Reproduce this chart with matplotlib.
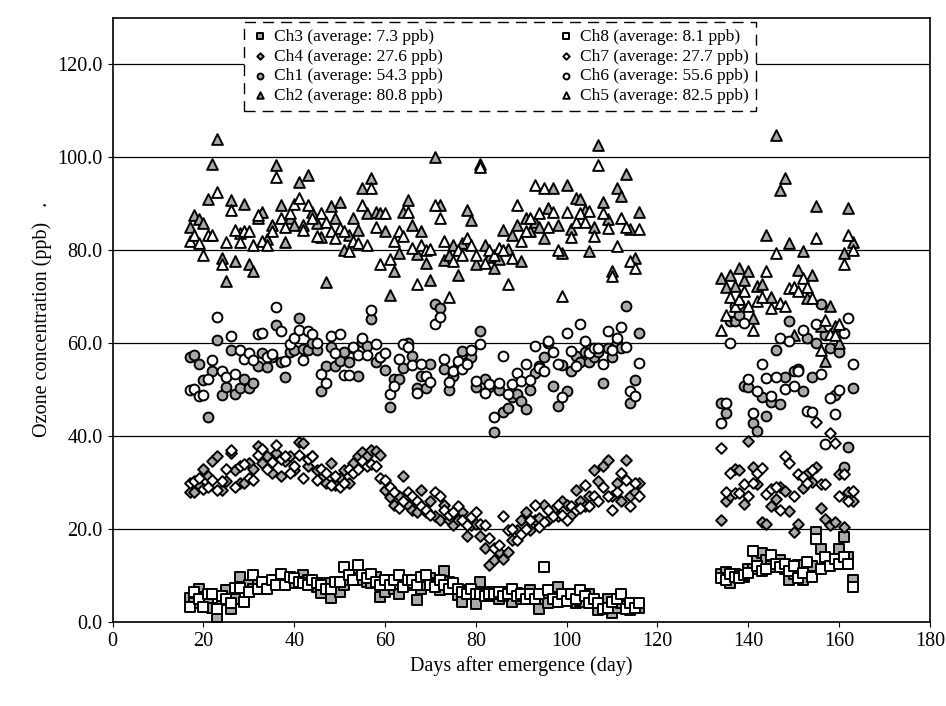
import matplotlib
matplotlib.use("Agg")
import matplotlib.pyplot as plt

# days after emergence (two measuring periods)
days_a = list(range(17, 117))
days_b = list(range(134, 164))

# Ch3 (hatched square) / Ch8 (open square)
ch3_a = [5.1, 4, 7.2, 5.4, 4, 3, 1.1, 4.7, 6.9, 2.7,
         5, 9.7, 7.4, 8, 7, 8.6, 7, 8, 8.5, 9,
         9, 9.4, 9, 8.3, 8.3, 10.1, 9, 8.3, 7.5, 6.3,
         8.3, 5.1, 7, 6.5, 8, 9, 10.1, 9.4, 9, 8.6,
         8.3, 9.7, 5.4, 6.5, 7.9, 7, 6.1, 7.9, 7.9, 8.3,
         4.7, 7, 8, 9.4, 8.3, 6.9, 11, 8.6, 7, 5.8,
         4.4, 6.9, 6, 3.9, 8.6, 6.1, 6.5, 5.5, 5, 6,
         6.5, 4.4, 6.3, 5, 6, 6.9, 6.1, 2.9, 5, 4,
         6.1, 7.6, 4.7, 5.4, 5.1, 4, 4.5, 4.4, 6.1, 4.4,
         2.6, 3.3, 5, 2, 3, 4, 3.5, 2.6, 3.3, 3]
ch8_a = [3.3, 6.5, 5, 3.3, 6.1, 6, 2.9, 5.5, 5, 4,
         7.4, 7.4, 4.4, 6.5, 10.1, 7, 8.6, 7, 9, 8,
         10.4, 8, 9.7, 9.5, 8.5, 8.3, 8, 9, 8.3, 8,
         7, 7, 8.5, 8.6, 11.9, 10, 9, 12.2, 10.1, 9.4,
         10.4, 8.5, 7.9, 9, 8, 9, 10.1, 7.5, 9, 9,
         8, 9.7, 10.1, 8, 7.5, 9, 8, 7, 8.3, 7,
         6.5, 6, 7.2, 6.1, 6, 5.5, 6, 6.1, 6.5, 5.5,
         6, 7, 5.5, 6, 5, 6, 5, 6, 11.9, 6.9,
         5, 4.4, 6, 4.5, 6, 5, 6.9, 5.5, 4, 5,
         4, 2.9, 3, 4.4, 5, 6, 2.9, 4, 3, 4]
ch3_b = [10.4, 10.8, 8.4, 10.4, 9.9, 9.7, 11.5, 11.5, 13.3, 14.8,
         13.3, 12, 11.9, 13.3, 11.5, 9, 10.4, 12.2, 9, 11.5,
         12, 19.4, 15.6, 12, 13.6, 12.5, 15.6, 18.3, 14, 9]
ch8_b = [9.5, 9, 10.4, 9.7, 9.4, 10, 10.5, 15.3, 12, 11,
         11.3, 14.5, 12.5, 11.9, 12.5, 11, 12, 9.5, 10.5, 13,
         9.7, 17.9, 11.5, 14, 12, 13.6, 12.4, 14, 12.4, 7.6]

# Ch4 (hatched diamond) / Ch7 (open diamond)
ch4_a = [28, 27.9, 29.4, 33, 31.5, 34.7, 35.8, 28.3, 30.4, 36.3,
         32.6, 30, 30, 34.3, 33, 37.9, 34.3, 35.6, 32, 36.4,
         31.5, 34.7, 35.8, 32.6, 38.8, 38.6, 33.6, 35.8, 32.6, 31,
         30, 34.3, 29.4, 31, 32.6, 30, 34.3, 35.6, 36.5, 35.8,
         36.9, 36.7, 36, 28.3, 26.8, 25.1, 27, 31.5, 25.1, 24,
         23.6, 28.3, 23.6, 26.1, 22.9, 21.9, 25.1, 21.9, 20.8, 22,
         23.6, 18.6, 20.8, 21, 18.6, 15.9, 12.2, 13.3, 15.1, 13.6,
         15.1, 17.6, 19.7, 21.9, 23.6, 19.7, 22, 22.3, 25.1, 22,
         24, 22.9, 26.1, 25.1, 23, 28.3, 26.1, 25, 27.2, 32.6,
         30.4, 33.6, 34.9, 27.2, 30, 26, 34.9, 27.2, 28, 30]
ch7_a = [30, 30.4, 31, 28.5, 29, 30.5, 28.3, 30.4, 33, 36.9,
         29, 33.5, 34, 31, 30.5, 36, 37.2, 33, 34.5, 38.1,
         35, 35.8, 32, 33.5, 36, 31, 35, 35.6, 30.5, 33,
         32, 29.5, 31.5, 29, 30, 33, 32, 33, 34.7, 33.5,
         34, 33.6, 31, 30.5, 29, 28, 24.5, 26, 28, 27,
         26, 25, 24, 23, 28, 27, 24, 23, 23.6, 25,
         21.9, 20.8, 22.5, 23.6, 21, 20.8, 18, 15.9, 16.5, 22.9,
         19.7, 20, 17.6, 19, 20, 22, 25.1, 20.5, 21.5, 24,
         22.9, 25.1, 23, 22, 25, 24, 24.5, 29.4, 25, 27,
         26, 29, 27.2, 24, 28, 32, 30.5, 25, 30, 27]
ch4_b = [22, 26.1, 27.2, 33, 32.7, 25.3, 38.9, 33.3, 29.7, 21.5,
         21, 24.9, 26.5, 29, 28.1, 23.9, 19.4, 21, 28.9, 31.9,
         30.1, 33.4, 24.6, 22.2, 20.8, 21.5, 31.9, 20.4, 27.9, 26.1]
ch7_b = [37.4, 27.9, 32, 27.7, 27.7, 29.7, 27.2, 30, 32, 33.1,
         27.6, 28.6, 29, 24, 35.8, 34.3, 27.2, 31.9, 31.1, 30,
         32.6, 43.1, 29.6, 29.6, 40.6, 38.4, 27, 31.9, 26, 28.1]

# Ch1 (hatched circle) / Ch6 (open circle)
ch1_a = [57, 57.4, 55.6, 52, 44.1, 54, 60.6, 48.9, 50.6, 58.6,
         49, 50.4, 52.2, 50.4, 51.5, 55, 57.9, 54.9, 57, 63.9,
         56, 52.6, 58, 58.4, 65.4, 58.7, 58.4, 60, 58.4, 49.7,
         55, 59.1, 55.1, 56.1, 58, 56, 59, 52.9, 60.3, 59.4,
         65.1, 56, 57, 54.1, 46.3, 52.2, 52.2, 54.6, 60.1, 57.2,
         50.4, 53, 50.4, 55.4, 68.3, 67.6, 54.4, 50, 53, 55,
         58.3, 56, 56.9, 50.6, 62.7, 52.2, 50.6, 40.8, 50, 45.1,
         46, 48.3, 49, 47.6, 45.8, 50, 53.6, 55, 56.9, 60,
         50.8, 46.5, 55.3, 49.6, 54, 57.2, 56, 58, 56, 57,
         58, 51.5, 59, 57, 60, 59, 67.9, 47.2, 52, 62.2]
ch6_a = [50, 50.1, 48.6, 48.9, 52.2, 56.4, 65.6, 54, 52.7, 61.5,
         53.3, 58.6, 56.5, 57.9, 56.3, 61.9, 62.2, 56.9, 57.6, 67.8,
         62.6, 56.1, 59.7, 61, 62.9, 56.3, 62.6, 62, 60.1, 53.4,
         51.5, 61.5, 57.9, 62, 53.1, 53.1, 59.1, 57.4, 61, 57.4,
         67.2, 59.7, 56.9, 57.9, 49, 50.8, 56.5, 59.7, 59.1, 55.3,
         49.3, 55.4, 52.9, 51.7, 64, 65.6, 56.5, 51.7, 54, 56.1,
         54.4, 55.4, 58.6, 51.9, 59.7, 49.3, 51.3, 44, 51.5, 57.2,
         49, 51.1, 53.6, 51.9, 55.4, 52, 59.4, 54.6, 54, 60.4,
         58.1, 55.6, 48.3, 62.2, 58.3, 55, 64, 60.4, 57.9, 59,
         59, 55.4, 62.7, 58.6, 61, 63.4, 59.1, 49.6, 48.6, 55.8]
ch1_b = [47.2, 45, 64.7, 64.7, 66.1, 50.8, 50.6, 42.7, 41.1, 48.3,
         44.4, 47.4, 58.6, 46.9, 52.7, 64.7, 54, 54.4, 49.7, 61.1,
         52.6, 60, 68.3, 61.8, 59, 48.9, 58, 33.4, 37.6, 50.3]
ch6_b = [42.9, 47, 60.1, 67.9, 68.3, 64.3, 52.2, 44.9, 49.7, 55.4,
         52.4, 48.6, 52.7, 61.1, 50.1, 60.4, 50.8, 54, 62.9, 45.3,
         45.1, 64, 53.3, 38.3, 48.1, 44.7, 50, 62.2, 65.4, 55.4]

# Ch2 (hatched triangle) / Ch5 (open triangle)
ch2_a = [85, 87.6, 86.6, 85.8, 90.9, 98.6, 104, 78.3, 73.4, 90.8,
         77.6, 83.6, 90, 76.9, 75.4, 86.8, 88.3, 82.3, 85.5, 98.3,
         89.7, 81.7, 86.8, 85.4, 94.7, 85.4, 96.2, 88.3, 85.8, 82.9,
         73.1, 89.4, 86.8, 90.4, 80, 83.3, 86.8, 84.4, 93.3, 87.9,
         95.6, 88.3, 87.9, 84.1, 70.4, 75.4, 79.3, 88.3, 90.8, 85.4,
         79.1, 84, 77.2, 73.6, 100.1, 89.7, 77.9, 79, 81, 74.7,
         81.5, 88.6, 86.5, 76.9, 98.6, 81.1, 78.6, 76.1, 78, 84.4,
         80.3, 83.3, 85.4, 77.6, 86.8, 84, 86.1, 85, 82.7, 89.1,
         93.3, 85.4, 79.3, 94.1, 84.6, 91.3, 91, 88.6, 79.8, 85,
         102.6, 90.3, 86.7, 75.6, 93.3, 91.7, 96.3, 84.6, 78.3, 88.3]
ch5_a = [82, 83.3, 81.5, 79, 83.3, 83.3, 92.6, 77, 81.8, 88.7,
         84.4, 81.8, 84, 84, 81.1, 87.6, 82, 81.2, 84, 95.8,
         86.8, 85, 88, 90, 91.3, 84.4, 89.7, 86.8, 83, 88,
         86, 84, 82.6, 84.7, 84, 79.7, 82, 81.5, 89.7, 81.2,
         93.4, 85, 76.9, 88, 78, 82, 84, 83, 88.3, 80.4,
         72.6, 81.1, 80, 80.3, 89.7, 86.8, 82, 70, 77.6, 80,
         79, 82.6, 81.1, 79, 97.9, 77.2, 80, 79, 80.5, 80,
         72.6, 78.3, 89.7, 82, 84, 87, 94, 88, 93.4, 85,
         88.3, 80, 70.1, 88.1, 82.9, 86, 88, 86, 88.4, 83,
         98.4, 87.9, 84.7, 74.4, 80.8, 87, 84.9, 77.7, 76.1, 84.6]
ch2_b = [74, 72, 74.7, 72.2, 76.1, 73.6, 75.4, 65.4, 72.2, 72.6,
         83.3, 70, 104.7, 92.9, 95.4, 81.5, 61.8, 75.8, 79.7, 69.7,
         74.7, 89.4, 63.6, 56.1, 67.9, 63.6, 60, 79.3, 89, 81.8]
ch5_b = [62.9, 66, 70, 68, 69.4, 71.1, 68, 62.9, 69, 70,
         75.4, 67.6, 79.3, 68.6, 67.9, 71.9, 72, 71.1, 74, 72,
         69.7, 82.6, 58.6, 65, 62, 61.8, 64, 76.9, 83.3, 80]

hatch_fc = "#a9a9a9"

plt.rcParams["font.family"] = "Liberation Serif"
fig = plt.figure(figsize=(9.46, 7.06), dpi=100)
ax = fig.add_axes([0.119, 0.119, 0.864, 0.856])

series = [
    ("Ch3 (average: 7.3 ppb)", ch3_a, ch3_b, "s", hatch_fc, 60),
    ("Ch4 (average: 27.6 ppb)", ch4_a, ch4_b, "D", hatch_fc, 30),
    ("Ch1 (average: 54.3 ppb)", ch1_a, ch1_b, "o", hatch_fc, 50),
    ("Ch2 (average: 80.8 ppb)", ch2_a, ch2_b, "^", hatch_fc, 60),
    ("Ch8 (average: 8.1 ppb)", ch8_a, ch8_b, "s", "white", 60),
    ("Ch7 (average: 27.7 ppb)", ch7_a, ch7_b, "D", "white", 30),
    ("Ch6 (average: 55.6 ppb)", ch6_a, ch6_b, "o", "white", 50),
    ("Ch5 (average: 82.5 ppb)", ch5_a, ch5_b, "^", "white", 60),
]

handles = []
for label, va, vb, mk, fc, sz in series:
    x = days_a + days_b
    y = va + vb
    h = ax.scatter(x, y, marker=mk, s=sz, facecolors=fc, edgecolors="black",
                   linewidths=1.4, label=label, zorder=3)
    handles.append(h)

ax.set_xlim(0, 180)
ax.set_ylim(0, 130)
ax.set_xticks(range(0, 181, 20))
ax.set_yticks(range(0, 121, 20))
ax.set_yticklabels([f"{v:.1f}" for v in range(0, 121, 20)])
ax.yaxis.grid(True, color="black", linewidth=0.9)
ax.set_axisbelow(True)
ax.tick_params(labelsize=14.5)
for sp in ax.spines.values():
    sp.set_linewidth(1.2)

ax.set_xlabel("Days after emergence (day)", fontsize=14.5)
ax.set_ylabel("Ozone concentration (ppb)   .", fontsize=14.5)

leg = ax.legend(handles=handles, ncol=2, loc="upper center",
                bbox_to_anchor=(0.474, 0.993), borderaxespad=0,
                fontsize=12.5, frameon=True,
                fancybox=False, framealpha=1, edgecolor="black",
                handlelength=1.0, handletextpad=0.3, columnspacing=6.6,
                labelspacing=0.2, borderpad=0.4, markerscale=0.6)
leg.get_frame().set_linestyle((0, (8, 5)))
leg.set_zorder(5)

fig.savefig("out.png", dpi=100)
